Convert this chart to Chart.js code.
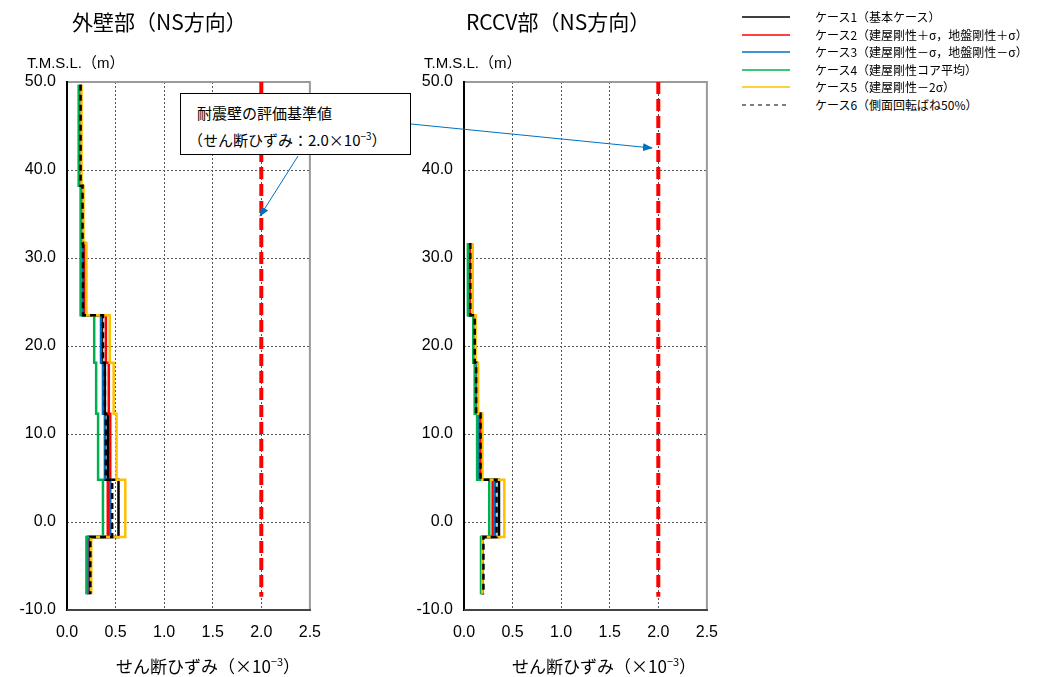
<!DOCTYPE html>
<html>
<head>
<meta charset="utf-8">
<script src="https://cdn.jsdelivr.net/npm/chart.js@4/dist/chart.umd.min.js"></script>
<style>
  body { margin: 0; background: #fff; font-family: 'Liberation Sans', 'Noto Sans CJK JP', sans-serif; }
  #wrap { position: relative; width: 1059px; height: 677px; overflow: hidden; }
  canvas { position: absolute; top: 0; }
  .title { position: absolute; top: 6px; font-size: 21px; color: #000; font-family: 'Noto Sans CJK JP', sans-serif; white-space: nowrap; }
  .unit { position: absolute; top: 51px; font-size: 15px; color: #000; white-space: nowrap; font-family: 'Liberation Sans', 'Noto Sans CJK JP', sans-serif; }
  .xtitle { position: absolute; top: 650px; font-size: 17px; color: #000; white-space: nowrap; font-family: 'Noto Sans CJK JP', sans-serif; line-height: 22px; }
  .xtitle sup { font-size: 11px; }
  .leg { position: absolute; left: 740px; font-size: 12px; color: #000; white-space: nowrap; font-family: 'Noto Sans CJK JP', sans-serif; }
  .leg svg { position: absolute; left: 0; top: 0; }
  .leg span { position: absolute; left: 75px; top: -9px; }
  #note { position: absolute; left: 180px; top: 93px; width: 231px; height: 62px; border: 1.5px solid #000; background: #fff;
          font-family: 'Noto Sans CJK JP', sans-serif; font-size: 15px; line-height: 23px; padding: 7px 0 0 16px; box-sizing: border-box; z-index: 2; }
  #note .l2 { margin-left: -9px; }
  #arrows { position: absolute; left: 0; top: 0; z-index: 3; }
</style>
</head>
<body>
<div id="wrap">
  <canvas id="left" width="334" height="677" style="left:0;width:334px;height:677px"></canvas>
  <canvas id="right" width="334" height="677" style="left:397px;width:334px;height:677px"></canvas>
  <div class="title" style="left:72px">外壁部（NS方向）</div>
  <div class="title" style="left:466px">RCCV部（NS方向）</div>
  <div class="unit" style="left:27px">T.M.S.L.（m）</div>
  <div class="unit" style="left:424px">T.M.S.L.（m）</div>
  <div class="xtitle" style="left:116px">せん断ひずみ（×10<sup>−3</sup>）</div>
  <div class="xtitle" style="left:512px">せん断ひずみ（×10<sup>−3</sup>）</div>
  <div id="legend"></div>
  <div id="note">耐震壁の評価基準値<br><span class="l2">（せん断ひずみ：2.0×10<sup style="font-size:10px">−3</sup>）</span></div>
  <svg id="arrows" width="1059" height="677">
    <defs>
      <marker id="ah" markerWidth="10" markerHeight="8" refX="9" refY="4" orient="auto" markerUnits="userSpaceOnUse">
        <path d="M0,0 L10,4 L0,8 z" fill="#0070c0"/>
      </marker>
    </defs>
    <line x1="298" y1="156" x2="260" y2="216" stroke="#0070c0" stroke-width="1" marker-end="url(#ah)"/>
    <line x1="411" y1="124" x2="652" y2="148" stroke="#0070c0" stroke-width="1" marker-end="url(#ah)"/>
  </svg>
</div>
<script>
// floor levels T.M.S.L. (m), top to bottom
const levelsOuter = [49.7, 38.2, 31.7, 23.5, 18.1, 12.3, 4.8, -1.7, -8.2];
const levelsRccv = [31.7, 23.5, 18.1, 12.3, 4.8, -1.7, -8.2];

const caseNames = [
  'ケース1（基本ケース）',
  'ケース2（建屋剛性＋σ，地盤剛性＋σ）',
  'ケース3（建屋剛性－σ，地盤剛性－σ）',
  'ケース4（建屋剛性コア平均）',
  'ケース5（建屋剛性－2σ）',
  'ケース6（側面回転ばね50%）'
];
const caseColors = ['#000000', '#ff0000', '#0070c0', '#00b050', '#ffc000', '#000000'];

// shear strain (x10^-3) per story, 外壁部
const outerCase1 = [0.14, 0.16, 0.17, 0.36, 0.39, 0.42, 0.53, 0.22];
const outerCase2 = [0.14, 0.16, 0.19, 0.40, 0.43, 0.445, 0.42, 0.22];
const outerCase3 = [0.13, 0.15, 0.16, 0.35, 0.37, 0.39, 0.445, 0.21];
const outerCase4 = [0.12, 0.14, 0.14, 0.28, 0.30, 0.32, 0.37, 0.20];
const outerCase5 = [0.15, 0.17, 0.20, 0.44, 0.48, 0.51, 0.60, 0.25];
const outerCase6 = [0.14, 0.16, 0.165, 0.37, 0.39, 0.40, 0.465, 0.24];

// shear strain (x10^-3) per story, RCCV部
const rccvCase1 = [0.06, 0.11, 0.125, 0.175, 0.36, 0.19];
const rccvCase2 = [0.06, 0.11, 0.125, 0.165, 0.295, 0.19];
const rccvCase3 = [0.05, 0.10, 0.12, 0.15, 0.32, 0.185];
const rccvCase4 = [0.04, 0.095, 0.11, 0.135, 0.26, 0.175];
const rccvCase5 = [0.09, 0.12, 0.145, 0.19, 0.415, 0.19];
const rccvCase6 = [0.065, 0.11, 0.125, 0.17, 0.335, 0.20];

const limitValue = 2.0;
const limitTop = 50;
const limitBottom = -8.5;

const xTicks = [0, 0.5, 1.0, 1.5, 2.0, 2.5];
const yTicks = [-10, 0, 10, 20, 30, 40, 50];

function steps(levels, vals) {
  const pts = [];
  vals.forEach((v, i) => {
    pts.push({ x: v, y: levels[i] });
    pts.push({ x: v, y: levels[i + 1] });
  });
  return pts;
}

const framePlugin = {
  id: 'frame',
  beforeDatasetsDraw(chart) {
    const { ctx, chartArea: a } = chart;
    ctx.save();
    ctx.lineWidth = 2;
    ctx.strokeStyle = '#9a9a9a';
    ctx.strokeRect(a.left, a.top, a.right - a.left, a.bottom - a.top);
    ctx.strokeStyle = '#000';
    ctx.beginPath();
    ctx.moveTo(a.left, a.top - 1);
    ctx.lineTo(a.left, a.bottom + 1);
    ctx.stroke();
    ctx.strokeStyle = '#444';
    ctx.beginPath();
    ctx.moveTo(a.left, a.bottom);
    ctx.lineTo(a.right + 1, a.bottom);
    ctx.stroke();
    ctx.restore();
  }
};

function makeChart(id, levels, cases) {
  const datasets = [];
  datasets.push({
    data: [{ x: limitValue, y: limitTop }, { x: limitValue, y: limitBottom }],
    borderColor: '#ff0000', borderWidth: 4, borderDash: [12, 5]
  });
  // index 0 is drawn last: dashed case 6 on top, case 1 at the bottom
  const order = [5, 4, 3, 2, 1, 0];
  order.forEach(i => {
    datasets.push({
      data: steps(levels, cases[i]),
      borderColor: caseColors[i],
      borderWidth: 2.5,
      borderDash: i === 5 ? [6, 4] : []
    });
  });
  return new Chart(document.getElementById(id), {
    type: 'scatter',
    data: { datasets },
    options: {
      responsive: false,
      animation: false,
      showLine: true,
      elements: { point: { radius: 0 }, line: { tension: 0, fill: false } },
      layout: { padding: { top: 82, right: 20, left: 0, bottom: 0 } },
      plugins: { legend: { display: false }, tooltip: { enabled: false } },
      scales: {
        x: {
          type: 'linear', min: 0, max: 2.5,
          afterBuildTicks: s => { s.ticks = xTicks.map(v => ({ value: v })); },
          afterFit: s => { s.height = 67; },
          grid: { color: '#555', lineWidth: 1, drawTicks: false },
          border: { display: false, dash: [2, 2] },
          ticks: { color: '#000', padding: 13, font: { size: 16, family: "'Liberation Sans', sans-serif" },
                   callback: v => Number(v).toFixed(1) }
        },
        y: {
          type: 'linear', min: -10, max: 50,
          afterBuildTicks: s => { s.ticks = yTicks.map(v => ({ value: v })); },
          afterFit: s => { s.width = 67; },
          grid: { color: '#555', lineWidth: 1, drawTicks: false },
          border: { display: false, dash: [2, 2] },
          ticks: { color: '#000', padding: 11, font: { size: 16, family: "'Liberation Sans', sans-serif" },
                   callback: v => Number(v).toFixed(1) }
        }
      }
    },
    plugins: [framePlugin]
  });
}

makeChart('left', levelsOuter, [outerCase1, outerCase2, outerCase3, outerCase4, outerCase5, outerCase6]);
makeChart('right', levelsRccv, [rccvCase1, rccvCase2, rccvCase3, rccvCase4, rccvCase5, rccvCase6]);

// legend
const legend = document.getElementById('legend');
const rowY = [17, 34.5, 52, 69.5, 87, 104.5];
caseNames.forEach((name, i) => {
  const d = document.createElement('div');
  d.className = 'leg';
  d.style.top = rowY[i] + 'px';
  const dash = i === 5 ? 'stroke-dasharray="4,4"' : '';
  const w = i === 5 ? 1.2 : 1.5;
  d.innerHTML = '<svg width="60" height="4" style="top:-2px"><line x1="2" y1="2" x2="50" y2="2" stroke="' +
    caseColors[i] + '" stroke-width="' + w + '" ' + dash + '/></svg><span>' + name + '</span>';
  legend.appendChild(d);
});
</script>
</body>
</html>
